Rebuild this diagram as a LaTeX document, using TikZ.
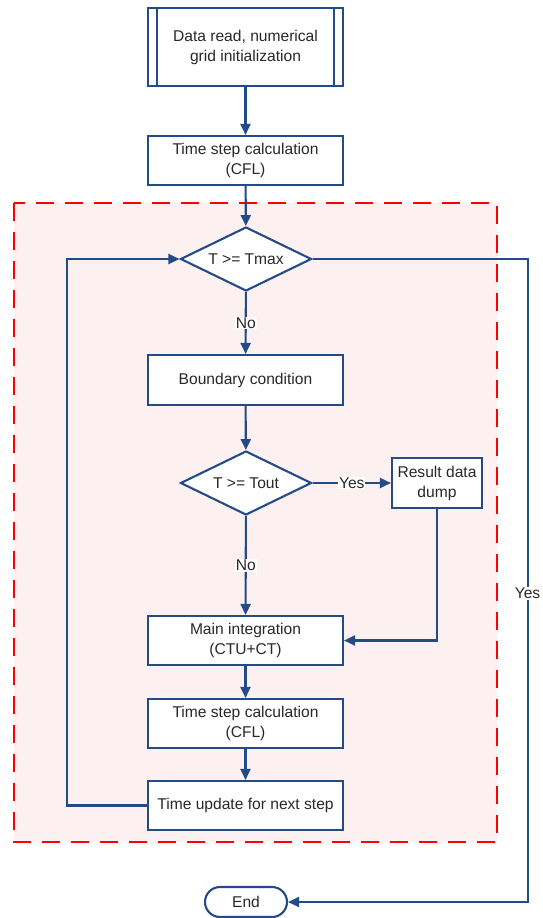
\documentclass[tikz,border=0pt]{standalone}
\usepackage{fontspec}
\setmainfont{Liberation Sans}
\usepackage{tikz}
\usetikzlibrary{shapes.geometric,arrows.meta}
\definecolor{flowblue}{RGB}{35,75,135}
\definecolor{loopfill}{RGB}{253,240,240}
\definecolor{flowtext}{RGB}{40,40,40}

\begin{document}
\begin{tikzpicture}[x=1pt,y=-1pt,
    font=\fontsize{15.6}{20}\selectfont,text=flowtext,
    box/.style={draw=flowblue,line width=2.1pt,fill=white,minimum width=195pt,minimum height=49pt,align=center,inner sep=2pt},
    test/.style={draw=flowblue,line width=2.1pt,fill=white,diamond,aspect=2.05,minimum width=131pt,minimum height=64pt,inner sep=0pt},
    arr/.style={draw=flowblue,line width=2.1pt,-{Triangle[length=11pt,width=10pt]}},
    lbl/.style={fill=white,inner sep=1pt}]
      \useasboundingbox (0,0) rectangle (543,918);
      \draw[red,fill=loopfill,line width=2.8pt,dash pattern=on 18pt off 11pt] (14,203) rectangle (497,842);
      \node[box,minimum height=78pt] (init) at (245.5,47) {Data read, numerical\\grid initialization};
      \draw[flowblue,line width=2.1pt] ([xshift=10pt]init.north west) -- ([xshift=10pt]init.south west);
      \draw[flowblue,line width=2.1pt] ([xshift=-10pt]init.north east) -- ([xshift=-10pt]init.south east);
      \node[box] (cfl1) at (245.5,160.5) {Time step calculation\\(CFL)};
      \node[test] (tmax) at (246,259) {T >= Tmax};
      \node[box,minimum height=50pt] (bc) at (245.5,380) {Boundary condition};
      \node[test] (tout) at (246,483) {T >= Tout};
      \node[box,minimum width=90pt,minimum height=50pt] (dump) at (437,483) {Result data\\dump};
      \node[box] (main) at (245.5,640.5) {Main integration\\(CTU+CT)};
      \node[box] (cfl2) at (245.5,723.5) {Time step calculation\\(CFL)};
      \node[box] (update) at (245.5,805.5) {Time update for next step};
      \node[draw=flowblue,line width=2.1pt,fill=white,rounded corners=15pt,minimum width=82pt,minimum height=30pt] (end) at (246,902) {End};
      \draw[arr] (init) -- (cfl1);
      \draw[arr] (cfl1) -- (tmax);
      \draw[arr] (tmax) -- node[lbl] {No} (bc);
      \draw[arr] (bc) -- (tout);
      \draw[arr] (tout) -- node[lbl] {Yes} (dump);
      \draw[arr] (tout) -- node[lbl] {No} (main);
      \draw[arr] (dump) |- (main);
      \draw[arr] (main) -- (cfl2);
      \draw[arr] (cfl2) -- (update);
      \draw[arr] (update.west) -- ++(-80,0) |- (tmax.west);
      \draw[arr] (tmax.east) -- ++(215,0) |- node[lbl,pos=0.26] {Yes} (end.east);
    \end{tikzpicture}
\end{document}
